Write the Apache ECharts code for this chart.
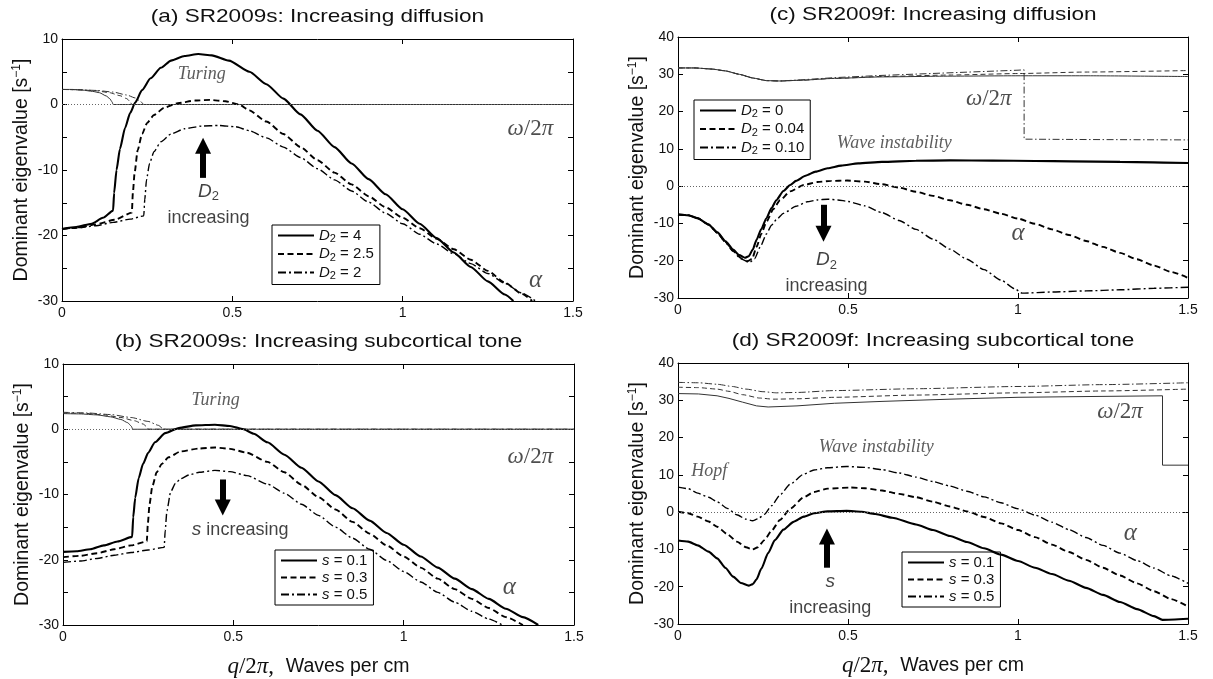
<!DOCTYPE html>
<html>
<head>
<meta charset="utf-8">
<script src="https://cdn.jsdelivr.net/npm/echarts@6/dist/echarts.min.js"></script>
<style>
html,body{margin:0;padding:0;background:#fff;}
#chart{width:1213px;height:679px;}
</style>
</head>
<body>
<div id="chart"></div>
<script>
// ---------- axes ----------
const qTicks = [0, 0.5, 1, 1.5];
const yRangeSlow = [-30, 10];   // SR2009s panels
const yRangeFast = [-30, 40];   // SR2009f panels

const panelTitles = [
  '(a) SR2009s: Increasing diffusion',
  '(b) SR2009s: Increasing subcortical tone',
  '(c) SR2009f: Increasing diffusion',
  '(d) SR2009f: Increasing subcortical tone'
];

// ---------- (a) SR2009s, D2 = 4 / 2.5 / 2 ----------
const aAlphaD4 = [[0,-19.0],[0.042,-18.7],[0.087,-18.2],[0.12,-17.3],[0.15,-16.2],[0.153,-13.5],[0.16,-10.0],[0.17,-6.8],[0.185,-3.6],[0.2,-1.3],[0.215,0.3],[0.235,2.2],[0.26,4.0],[0.29,5.6],[0.32,6.7],[0.36,7.4],[0.40,7.7],[0.44,7.5],[0.49,6.7],[0.55,5.0],[0.60,3.1],[0.65,0.9],[0.70,-1.5],[0.75,-4.0],[0.80,-6.5],[0.85,-9.0],[0.90,-11.4],[0.95,-13.7],[1.0,-16.0],[1.05,-18.2],[1.1,-20.4],[1.15,-22.6],[1.2,-24.8],[1.25,-27.0],[1.3,-29.0],[1.325,-30.0]];
const aAlphaD25 = [[0,-19.0],[0.05,-18.8],[0.098,-18.3],[0.155,-17.6],[0.205,-16.5],[0.208,-13.5],[0.213,-10.5],[0.222,-7.0],[0.235,-4.5],[0.25,-2.8],[0.27,-1.6],[0.3,-0.5],[0.34,0.2],[0.39,0.6],[0.435,0.7],[0.48,0.5],[0.52,0.0],[0.55,-0.9],[0.6,-2.6],[0.65,-4.5],[0.7,-6.5],[0.75,-8.5],[0.8,-10.4],[0.85,-12.2],[0.9,-14.0],[0.95,-15.7],[1.0,-17.3],[1.05,-18.9],[1.1,-20.5],[1.15,-22.1],[1.2,-23.7],[1.25,-25.4],[1.3,-27.2],[1.35,-28.9],[1.38,-30.0]];
const aAlphaD2 = [[0,-19.0],[0.05,-18.8],[0.1,-18.5],[0.15,-18.0],[0.2,-17.5],[0.24,-17.0],[0.243,-14.5],[0.248,-11.5],[0.257,-9.0],[0.27,-7.2],[0.29,-5.7],[0.32,-4.5],[0.36,-3.7],[0.41,-3.3],[0.46,-3.2],[0.51,-3.4],[0.55,-4.0],[0.6,-5.1],[0.65,-6.5],[0.7,-8.1],[0.75,-9.8],[0.8,-11.5],[0.85,-13.2],[0.9,-14.9],[0.95,-16.6],[1.0,-18.2],[1.05,-19.8],[1.1,-21.3],[1.15,-22.8],[1.2,-24.3],[1.25,-25.8],[1.3,-27.3],[1.35,-28.8],[1.39,-30.0]];
const aOmegaD4 = [[0,2.3],[0.03,2.3],[0.06,2.2],[0.09,2.0],[0.11,1.8],[0.13,1.3],[0.14,0.9],[0.147,0.4],[0.15,0],[1.5,0]];
const aOmegaD25 = [[0,2.3],[0.05,2.25],[0.1,2.1],[0.14,1.8],[0.17,1.35],[0.19,0.9],[0.2,0.45],[0.205,0],[1.5,0]];
const aOmegaD2 = [[0,2.3],[0.05,2.25],[0.1,2.15],[0.15,1.9],[0.19,1.45],[0.215,1.0],[0.23,0.5],[0.24,0],[1.5,0]];

// ---------- (b) SR2009s, s = 0.1 / 0.3 / 0.5 ----------
const bAlphaS01 = [[0,-18.8],[0.04,-18.7],[0.08,-18.4],[0.12,-17.8],[0.16,-17.2],[0.203,-16.5],[0.206,-13.5],[0.212,-10.5],[0.222,-7.5],[0.235,-5.3],[0.25,-3.6],[0.27,-2.0],[0.3,-0.6],[0.34,0.2],[0.39,0.6],[0.446,0.7],[0.49,0.5],[0.53,0.0],[0.56,-0.7],[0.6,-2.0],[0.65,-3.9],[0.7,-5.9],[0.75,-8.0],[0.8,-10.1],[0.85,-12.1],[0.9,-14.0],[0.95,-15.9],[1.0,-17.7],[1.05,-19.5],[1.1,-21.2],[1.15,-22.9],[1.2,-24.5],[1.25,-26.0],[1.3,-27.5],[1.35,-28.8],[1.395,-30.0]];
const bAlphaS03 = [[0,-19.6],[0.05,-19.4],[0.1,-19.0],[0.15,-18.4],[0.2,-17.8],[0.246,-17.2],[0.249,-14.5],[0.254,-11.5],[0.262,-8.8],[0.275,-6.6],[0.29,-5.3],[0.31,-4.3],[0.345,-3.4],[0.4,-2.95],[0.446,-2.8],[0.49,-3.0],[0.54,-3.6],[0.6,-5.0],[0.65,-6.6],[0.7,-8.5],[0.75,-10.4],[0.8,-12.3],[0.85,-14.2],[0.9,-16.0],[0.95,-17.8],[1.0,-19.5],[1.05,-21.2],[1.1,-22.9],[1.15,-24.5],[1.2,-26.0],[1.25,-27.4],[1.3,-28.8],[1.35,-30.0]];
const bAlphaS05 = [[0,-20.4],[0.05,-20.2],[0.1,-19.8],[0.15,-19.3],[0.2,-18.9],[0.25,-18.5],[0.297,-18.1],[0.3,-15.5],[0.305,-12.5],[0.316,-9.6],[0.33,-8.3],[0.345,-7.6],[0.37,-7.0],[0.4,-6.6],[0.446,-6.3],[0.49,-6.5],[0.54,-7.1],[0.6,-8.4],[0.65,-9.8],[0.7,-11.5],[0.75,-13.2],[0.8,-15.0],[0.85,-16.7],[0.9,-18.4],[0.95,-20.1],[1.0,-21.8],[1.05,-23.4],[1.1,-25.0],[1.15,-26.5],[1.2,-27.9],[1.25,-29.1],[1.29,-30.0]];
const bOmegaS01 = [[0,2.4],[0.05,2.35],[0.1,2.2],[0.14,1.9],[0.17,1.5],[0.19,1.0],[0.2,0.5],[0.205,0],[1.5,0]];
const bOmegaS03 = [[0,2.5],[0.06,2.45],[0.12,2.2],[0.17,1.8],[0.21,1.3],[0.235,0.8],[0.248,0.3],[0.25,0],[1.5,0]];
const bOmegaS05 = [[0,2.6],[0.07,2.5],[0.14,2.25],[0.2,1.8],[0.25,1.2],[0.28,0.6],[0.295,0],[1.5,0]];

// ---------- (c) SR2009f, D2 = 0 / 0.04 / 0.10 ----------
const cAlphaD0 = [[0,-7.6],[0.03,-7.8],[0.058,-8.6],[0.09,-10.3],[0.116,-12.4],[0.14,-14.8],[0.162,-17.0],[0.18,-18.5],[0.197,-19.2],[0.208,-18.8],[0.22,-17.0],[0.231,-14.4],[0.245,-11.5],[0.26,-8.6],[0.275,-5.9],[0.289,-3.8],[0.31,-1.3],[0.33,0.3],[0.347,1.4],[0.375,2.8],[0.405,3.9],[0.44,4.8],[0.48,5.5],[0.53,6.1],[0.6,6.5],[0.7,6.8],[0.8,6.9],[0.925,6.85],[1.05,6.75],[1.157,6.65],[1.3,6.5],[1.5,6.2]];
const cAlphaD004 = [[0,-7.6],[0.03,-7.8],[0.058,-8.6],[0.09,-10.3],[0.116,-12.5],[0.14,-15.0],[0.162,-17.3],[0.185,-19.3],[0.205,-20.1],[0.218,-19.5],[0.231,-16.3],[0.245,-12.8],[0.26,-9.6],[0.28,-6.2],[0.3,-3.8],[0.33,-1.4],[0.37,0.3],[0.41,1.1],[0.45,1.4],[0.497,1.5],[0.55,1.2],[0.6,0.5],[0.65,-0.4],[0.7,-1.5],[0.75,-2.6],[0.8,-3.8],[0.85,-5.0],[0.9,-6.2],[0.95,-7.4],[1.0,-8.7],[1.05,-10.1],[1.1,-11.6],[1.15,-13.1],[1.2,-14.7],[1.25,-16.3],[1.3,-17.9],[1.35,-19.6],[1.4,-21.3],[1.45,-23.0],[1.5,-24.6]];
const cAlphaD010 = [[0,-7.6],[0.03,-7.8],[0.058,-8.6],[0.09,-10.4],[0.116,-12.6],[0.14,-15.2],[0.162,-17.5],[0.185,-19.5],[0.21,-20.5],[0.225,-19.5],[0.243,-16.1],[0.26,-12.8],[0.275,-10.5],[0.289,-9.0],[0.31,-7.3],[0.347,-5.4],[0.38,-4.2],[0.41,-3.7],[0.44,-3.5],[0.47,-3.7],[0.5,-4.1],[0.55,-5.3],[0.6,-7.1],[0.65,-9.2],[0.7,-11.6],[0.75,-14.2],[0.8,-16.9],[0.85,-19.6],[0.9,-22.4],[0.95,-25.2],[0.99,-27.5],[1.012,-28.7],[1.1,-28.4],[1.2,-28.1],[1.3,-27.8],[1.4,-27.4],[1.5,-27.1]];
const cOmegaD0 = [[0,31.7],[0.05,31.7],[0.1,31.4],[0.14,30.9],[0.18,30.0],[0.22,29.0],[0.26,28.3],[0.3,28.2],[0.36,28.4],[0.46,28.9],[0.6,29.3],[0.8,29.5],[1.0,29.6],[1.2,29.6],[1.5,29.4]];
const cOmegaD004 = [[0,31.7],[0.05,31.7],[0.1,31.4],[0.14,30.9],[0.18,30.0],[0.22,29.0],[0.26,28.3],[0.3,28.2],[0.36,28.4],[0.46,28.9],[0.6,29.4],[0.8,29.8],[1.0,30.2],[1.2,30.6],[1.5,31.0]];
const cOmegaD010 = [[0,31.7],[0.05,31.7],[0.1,31.4],[0.14,30.9],[0.18,30.0],[0.22,29.0],[0.26,28.3],[0.3,28.2],[0.36,28.5],[0.46,29.1],[0.6,29.7],[0.8,30.4],[1.0,31.1],[1.018,31.2],[1.018,12.6],[1.2,12.5],[1.5,12.4]];

// ---------- (d) SR2009f, s = 0.1 / 0.3 / 0.5 ----------
const dAlphaS01 = [[0,-7.6],[0.03,-7.9],[0.058,-8.9],[0.09,-10.6],[0.115,-12.4],[0.14,-15.0],[0.162,-17.3],[0.185,-19.0],[0.208,-19.7],[0.22,-19.3],[0.231,-18.0],[0.245,-15.2],[0.265,-11.0],[0.285,-7.5],[0.31,-4.7],[0.34,-2.6],[0.37,-1.2],[0.40,-0.3],[0.44,0.2],[0.496,0.35],[0.54,0.1],[0.58,-0.5],[0.63,-1.5],[0.7,-3.3],[0.75,-4.8],[0.8,-6.4],[0.85,-8.0],[0.9,-9.7],[0.95,-11.4],[1.0,-13.1],[1.05,-14.9],[1.1,-16.6],[1.15,-18.4],[1.2,-20.3],[1.25,-22.2],[1.3,-24.1],[1.35,-26.0],[1.4,-27.9],[1.425,-28.9],[1.5,-28.6]];
const dAlphaS03 = [[0,0.1],[0.03,-0.3],[0.058,-1.2],[0.09,-2.5],[0.115,-3.9],[0.145,-5.9],[0.173,-7.9],[0.2,-9.4],[0.219,-10.0],[0.235,-9.4],[0.254,-7.5],[0.275,-5.0],[0.3,-2.1],[0.33,0.9],[0.37,4.0],[0.40,5.4],[0.44,6.3],[0.507,6.6],[0.55,6.4],[0.6,5.8],[0.65,4.9],[0.7,4.0],[0.75,2.8],[0.8,1.5],[0.85,0.2],[0.9,-1.3],[0.95,-3.0],[1.0,-4.8],[1.05,-6.7],[1.1,-8.7],[1.15,-10.7],[1.2,-12.8],[1.25,-14.9],[1.3,-17.0],[1.35,-19.1],[1.4,-21.2],[1.45,-23.3],[1.5,-25.3]];
const dAlphaS05 = [[0,6.7],[0.03,6.3],[0.058,5.1],[0.09,4.0],[0.115,2.8],[0.145,1.0],[0.173,-0.7],[0.2,-1.9],[0.219,-2.3],[0.235,-1.8],[0.254,-0.6],[0.275,1.7],[0.3,4.6],[0.33,7.5],[0.37,10.2],[0.40,11.3],[0.44,11.9],[0.496,12.25],[0.55,12.0],[0.6,11.4],[0.65,10.5],[0.7,9.4],[0.75,8.2],[0.8,7.0],[0.85,5.6],[0.9,4.1],[0.95,2.5],[1.0,0.9],[1.05,-0.8],[1.1,-2.7],[1.15,-4.7],[1.2,-6.8],[1.25,-8.9],[1.3,-11.0],[1.35,-13.0],[1.4,-15.0],[1.45,-17.1],[1.5,-19.1]];
const dOmegaS01 = [[0,31.8],[0.06,31.7],[0.115,31.2],[0.15,30.5],[0.19,29.5],[0.231,28.5],[0.265,28.2],[0.35,28.5],[0.46,29.2],[0.6,29.7],[0.8,30.3],[1.0,30.8],[1.2,31.0],[1.425,31.2],[1.425,12.6],[1.5,12.6]];
const dOmegaS03 = [[0,33.5],[0.06,33.4],[0.115,33.0],[0.15,32.4],[0.19,31.5],[0.24,30.6],[0.28,30.3],[0.35,30.4],[0.46,30.8],[0.7,31.4],[1.0,32.0],[1.25,32.5],[1.5,33.0]];
const dOmegaS05 = [[0,34.8],[0.06,34.7],[0.115,34.3],[0.16,33.7],[0.2,33.0],[0.25,32.3],[0.29,32.0],[0.35,32.1],[0.46,32.6],[0.7,33.1],[1.0,33.7],[1.25,34.2],[1.5,34.7]];

// ---------- legend entries ----------
const legendA = ['D2 = 4', 'D2 = 2.5', 'D2 = 2'];
const legendB = ['s = 0.1', 's = 0.3', 's = 0.5'];
const legendC = ['D2 = 0', 'D2 = 0.04', 'D2 = 0.10'];
const legendD = ['s = 0.1', 's = 0.3', 's = 0.5'];

// ---------- annotation anchors (data coordinates) ----------
const notesA = [['turing',0.41,4.6],['omega',1.375,-3.8],['alpha',1.39,-26.8],['d2inc',0.43,-15.3]];
const notesB = [['turing',0.448,4.4],['omega',1.372,-4.3],['alpha',1.31,-24.2],['sinc',0.52,-15.4]];
const notesC = [['wave',0.636,11.6],['omega',0.914,23.3],['alpha',1.0,-12.8],['d2inc',0.437,-23.3]];
const notesD = [['hopf',0.092,11.0],['wave',0.583,17.3],['omega',1.3,26.8],['alpha',1.33,-5.8],['sinc2',0.448,-22.2]];
// arrows: [q, tail, head]
const arrowA = [0.414, -11.2, -6.3];
const arrowB = [0.469, -7.7, -12.0];
const arrowC = [0.428, -5.0, -12.8];
const arrowD = [0.438, -14.9, -6.5];

const SANS = '"Liberation Sans", Arial, Helvetica, sans-serif';
const SERIF = '"Liberation Serif", "Times New Roman", serif';

const grids = [
  {left: 62, top: 39, width: 511, height: 262},
  {left: 63, top: 364, width: 511, height: 262},
  {left: 678, top: 37, width: 510, height: 261},
  {left: 678, top: 363, width: 510, height: 261}
];

const AX = '#000';
const xAxes = [], yAxes = [];
function addAxes(i, yr, yInt, labelEvery, withXName) {
  xAxes.push({
    gridIndex: i, type: 'value', position: 'bottom',
    min: qTicks[0], max: qTicks[qTicks.length - 1], interval: qTicks[1] - qTicks[0],
    axisLine: {show: true, onZero: false, lineStyle: {color: AX, width: 1}},
    axisTick: {show: true, inside: true, length: 5, lineStyle: {color: AX}},
    axisLabel: {color: '#111', fontFamily: SANS, fontSize: 14, margin: 5},
    splitLine: {show: false},
    name: withXName ? '{m|q}{r|/2}{m|π}{r|,}{g|   }{s|Waves per cm}' : '',
    nameLocation: 'middle', nameGap: 30,
    nameTextStyle: {
      color: '#111',
      rich: {
        m: {fontFamily: SERIF, fontStyle: 'italic', fontSize: 23, color: '#111'},
        r: {fontFamily: SERIF, fontSize: 23, color: '#111'},
        g: {fontFamily: SANS, fontSize: 14},
        s: {fontFamily: SANS, fontSize: 19.5, color: '#111'}
      }
    }
  });
  xAxes.push({
    gridIndex: i, type: 'value', position: 'top',
    min: qTicks[0], max: qTicks[qTicks.length - 1], interval: qTicks[1] - qTicks[0],
    axisLine: {show: true, onZero: false, lineStyle: {color: AX, width: 1}},
    axisTick: {show: true, inside: true, length: 5, lineStyle: {color: AX}},
    axisLabel: {show: false}, splitLine: {show: false}
  });
  yAxes.push({
    gridIndex: i, type: 'value', position: 'left',
    min: yr[0], max: yr[1], interval: yInt,
    axisLine: {show: true, onZero: false, lineStyle: {color: AX, width: 1}},
    axisTick: {show: true, inside: true, length: 5, lineStyle: {color: AX}},
    axisLabel: {
      color: '#111', fontFamily: SANS, fontSize: 14, margin: 4,
      formatter: v => (Math.round(v) % labelEvery === 0 ? String(v) : '')
    },
    splitLine: {show: false},
    name: 'Dominant eigenvalue [s{sup|−1}]',
    nameLocation: 'middle', nameRotate: 90, nameGap: 29,
    nameTextStyle: {
      fontFamily: SANS, fontSize: 19.5, color: '#111',
      rich: {sup: {fontFamily: SANS, fontSize: 12, color: '#111', padding: [0, 0, 10, 0]}}
    }
  });
  yAxes.push({
    gridIndex: i, type: 'value', position: 'right',
    min: yr[0], max: yr[1], interval: yInt,
    axisLine: {show: true, onZero: false, lineStyle: {color: AX, width: 1}},
    axisTick: {show: true, inside: true, length: 5, lineStyle: {color: AX}},
    axisLabel: {show: false}, splitLine: {show: false}
  });
}
addAxes(0, yRangeSlow, 5, 10, false);
addAxes(1, yRangeSlow, 5, 10, true);
addAxes(2, yRangeFast, 10, 10, false);
addAxes(3, yRangeFast, 10, 10, true);

// line styles: alpha curves are heavy, omega curves are thin
const alphaStyles = [
  {color: '#000', width: 2.1, type: 'solid'},
  {color: '#000', width: 1.9, type: [6, 3.5]},
  {color: '#000', width: 1.4, type: [8, 3, 2, 3]}
];
const omegaStyles = [
  {color: '#333', width: 1, type: 'solid'},
  {color: '#333', width: 1, type: [5, 3]},
  {color: '#333', width: 1, type: [7, 2.5, 1.5, 2.5]}
];

const series = [];
function addCurves(panel, prefix, alphas, omegas, names) {
  alphas.forEach((d, k) => {
    series.push({
      type: 'line', name: prefix + names[k], data: d,
      xAxisIndex: 2 * panel, yAxisIndex: 2 * panel,
      symbol: 'none', smooth: 0.2, smoothMonotone: 'x',
      lineStyle: alphaStyles[k], itemStyle: {color: '#000'},
      z: 4, silent: true, animation: false
    });
  });
  omegas.forEach((d, k) => {
    const hasStep = d.some((p, j) => j > 0 && p[0] === d[j - 1][0]);
    series.push({
      type: 'line', name: prefix + 'w' + k, data: d,
      xAxisIndex: 2 * panel, yAxisIndex: 2 * panel,
      symbol: 'none', smooth: hasStep ? false : 0.2, smoothMonotone: 'x',
      lineStyle: omegaStyles[k], itemStyle: {color: '#333'},
      z: 3, silent: true, animation: false
    });
  });
}
addCurves(0, 'a:', [aAlphaD4, aAlphaD25, aAlphaD2], [aOmegaD4, aOmegaD25, aOmegaD2], legendA);
addCurves(1, 'b:', [bAlphaS01, bAlphaS03, bAlphaS05], [bOmegaS01, bOmegaS03, bOmegaS05], legendB);
addCurves(2, 'c:', [cAlphaD0, cAlphaD004, cAlphaD010], [cOmegaD0, cOmegaD004, cOmegaD010], legendC);
addCurves(3, 'd:', [dAlphaS01, dAlphaS03, dAlphaS05], [dOmegaS01, dOmegaS03, dOmegaS05], legendD);

// text labels for annotations
const noteText = {
  turing: '{ti|Turing}',
  wave: '{ti|Wave instability}',
  hopf: '{ti|Hopf}',
  omega: '{mi|ω}{mr|/2}{mi|π}',
  alpha: '{al|α}',
  d2inc: '{si|D}{sub|2}\n{sn|increasing}',
  sinc: '{si|s}{sn| increasing}',
  sinc2: '{si|s}\n{sn|increasing}'
};
const noteRich = {
  ti: {fontFamily: SERIF, fontStyle: 'italic', fontSize: 18, color: '#333'},
  mi: {fontFamily: SERIF, fontStyle: 'italic', fontSize: 23, color: '#222'},
  mr: {fontFamily: SERIF, fontSize: 23, color: '#222'},
  al: {fontFamily: SERIF, fontStyle: 'italic', fontSize: 25, color: '#222'},
  si: {fontFamily: SANS, fontStyle: 'italic', fontSize: 19, color: '#111', lineHeight: 26},
  sub: {fontFamily: SANS, fontSize: 13, color: '#111', padding: [10, 0, 0, 0], lineHeight: 26},
  sn: {fontFamily: SANS, fontSize: 18, color: '#111', lineHeight: 26}
};

function addNotes(panel, notes, arrow) {
  series.push({
    type: 'scatter', name: 'notes' + panel,
    xAxisIndex: 2 * panel, yAxisIndex: 2 * panel,
    symbolSize: 1, itemStyle: {color: 'rgba(0,0,0,0)'},
    silent: true, animation: false, z: 6,
    data: notes.map(n => ({
      value: [n[1], n[2]],
      label: {show: true, position: 'inside', align: 'center', formatter: noteText[n[0]], rich: noteRich}
    })),
    markLine: {
      silent: true, animation: false, symbol: ['none', 'triangle'], symbolSize: 16,
      label: {show: false},
      lineStyle: {color: '#000', width: 6, type: 'solid', cap: 'butt'},
      data: [[{coord: [arrow[0], arrow[1]]}, {coord: [arrow[0], arrow[2]]}]]
    }
  });
  // dotted zero reference
  series.push({
    type: 'line', name: 'zero' + panel, data: [],
    xAxisIndex: 2 * panel, yAxisIndex: 2 * panel,
    silent: true, animation: false, z: 1,
    markLine: {
      silent: true, animation: false, symbol: 'none', label: {show: false},
      lineStyle: {color: '#666', width: 1, type: [1, 2]},
      data: [{yAxis: 0}]
    }
  });
}
addNotes(0, notesA, arrowA);
addNotes(1, notesB, arrowB);
addNotes(2, notesC, arrowC);
addNotes(3, notesD, arrowD);

// legend boxes
function legendLabel(text) {
  if (text.indexOf('D2') === 0) return '{i|D}{sub|2}{t|' + text.slice(2) + '}';
  return '{i|s}{t|' + text.slice(1) + '}';
}
const legendRich = {
  i: {fontFamily: SANS, fontStyle: 'italic', fontSize: 15, color: '#111'},
  sub: {fontFamily: SANS, fontSize: 11, color: '#111', padding: [7, 0, 0, 0]},
  t: {fontFamily: SANS, fontSize: 15, color: '#111'}
};
function makeLegend(prefix, labels, left, top) {
  return {
    show: true, orient: 'vertical', left: left, top: top,
    data: labels.map(l => prefix + l),
    formatter: name => legendLabel(name.slice(prefix.length)),
    textStyle: {rich: legendRich, fontFamily: SANS, fontSize: 15},
    itemStyle: {color: 'rgba(0,0,0,0)', borderColor: 'rgba(0,0,0,0)', borderWidth: 0},
    backgroundColor: '#fff', borderColor: '#000', borderWidth: 1, borderRadius: 0,
    padding: [3, 6, 3, 5], itemGap: 2, itemWidth: 36, itemHeight: 14,
    selectedMode: false
  };
}

const titleGraphics = panelTitles.map((t, i) => ({
  type: 'text',
  x: grids[i].left + grids[i].width / 2,
  y: grids[i].top - 22,
  scaleX: 1.22,
  style: {text: t, fontFamily: SANS, fontSize: 18.5, fill: '#111', align: 'center', verticalAlign: 'middle'}
}));

const chart = echarts.init(document.getElementById('chart'), null, {renderer: 'canvas'});
chart.setOption({
  backgroundColor: '#fff',
  animation: false,
  grid: grids,
  xAxis: xAxes,
  yAxis: yAxes,
  legend: [
    makeLegend('a:', legendA, 272, 225),
    makeLegend('b:', legendB, 275, 550),
    makeLegend('c:', legendC, 694, 100),
    makeLegend('d:', legendD, 902, 552)
  ],
  graphic: titleGraphics,
  series: series
});
</script>
</body>
</html>
